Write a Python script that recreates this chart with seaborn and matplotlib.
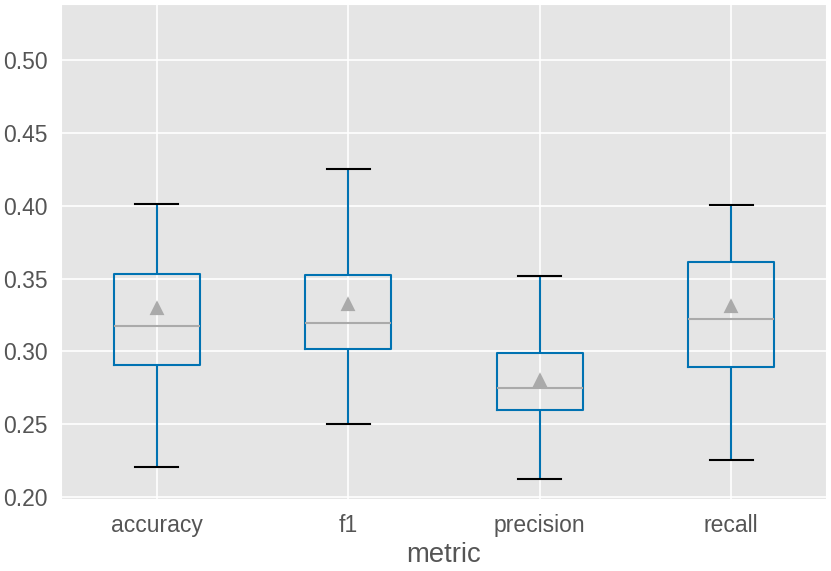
import matplotlib
matplotlib.use("Agg")
import matplotlib.pyplot as plt
import seaborn as sns
import pandas as pd

# Metrics shown on the x axis
metrics = ["accuracy", "f1", "precision", "recall"]

# Five-number summaries: low whisker, Q1, median, Q3, high whisker
accuracy = [0.2208, 0.2905, 0.3174, 0.3534, 0.4012]
f1 = [0.2499, 0.3014, 0.3197, 0.3523, 0.4253]
precision = [0.2126, 0.2598, 0.2747, 0.2987, 0.3520]
recall = [0.2254, 0.2891, 0.3223, 0.3614, 0.4005]

# Means (grey triangles)
means = [0.3290, 0.3319, 0.2799, 0.3307]

plt.style.use("ggplot")
plt.rcParams["font.family"] = ["Liberation Sans", "DejaVu Sans"]

rows = []
for name, vals in zip(metrics, [accuracy, f1, precision, recall]):
    for v in vals:
        rows.append({"metric": name, "value": v})
df = pd.DataFrame(rows)
mean_df = pd.DataFrame({"metric": metrics, "value": means})

fig, ax = plt.subplots(figsize=(5.54, 3.807), dpi=150)

blue = "#0072B2"
sns.boxplot(data=df, x="metric", y="value", order=metrics, whis=(0, 100),
            width=0.45, fill=False, color=blue, linewidth=1.0,
            medianprops={"color": "#aaaaaa"},
            capprops={"color": "black"},
            ax=ax)

sns.pointplot(data=mean_df, x="metric", y="value", order=metrics,
              linestyle="none", markers="^", color="#aaaaaa",
              errorbar=None, markersize=4.2, ax=ax)

ax.xaxis.grid(True)
ax.yaxis.grid(True)
ax.set_axisbelow(True)
ax.set_xlim(-0.5, 3.5)
ax.set_ylim(0.198, 0.5385)
ax.set_yticks([0.20, 0.25, 0.30, 0.35, 0.40, 0.45, 0.50])
ax.set_xlabel("metric", fontsize=13.2, color="#555555", labelpad=2.5)
ax.set_ylabel("")
ax.tick_params(axis="both", length=0, pad=6.5, labelsize=11, labelcolor="#555555")

fig.subplots_adjust(left=0.0734, right=0.995, top=0.993, bottom=0.1243)
fig.savefig("out.png", dpi=150)
